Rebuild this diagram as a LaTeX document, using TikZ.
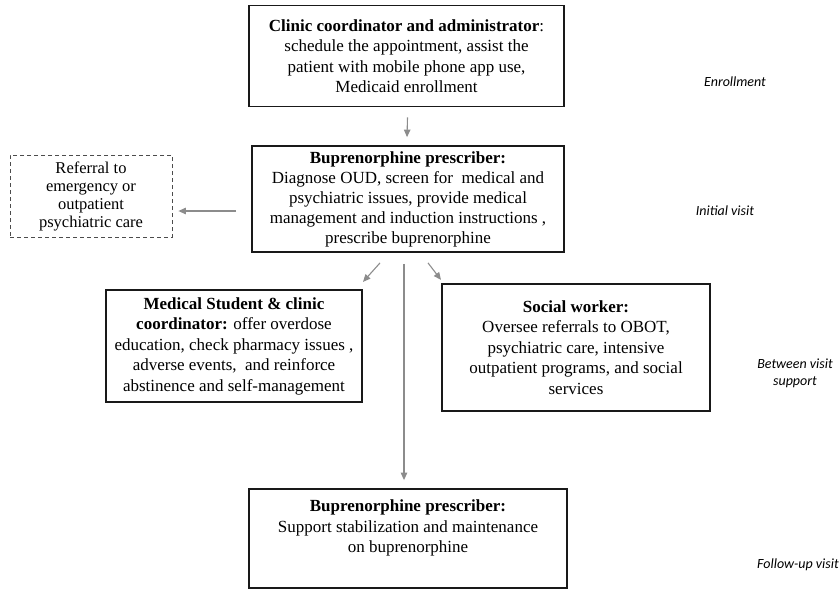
\documentclass[tikz,border=0pt]{standalone}
\usepackage{fontspec}
\setmainfont{Liberation Serif}
\newfontfamily\labfont{Carlito}
\usetikzlibrary{arrows.meta}
\begin{document}
\begin{tikzpicture}[x=1pt,y=-1pt,
  box/.style={draw=black!90, line width=1.8pt, align=center, inner sep=0pt, font=\fontsize{17}{20.5}\selectfont},
  dbox/.style={draw=black!70, dash pattern=on 4pt off 3pt, line width=0.8pt, align=center, inner sep=0pt, font=\fontsize{16.5}{18}\selectfont},
  conn/.style={draw=black!45, line width=1.1pt, -{Triangle[width=6.5pt,length=7.5pt]}},
  lab/.style={font=\labfont\itshape\fontsize{14}{17}\selectfont, align=center}]
\useasboundingbox (0,0) rectangle (840,590);
\node[box, minimum width=315pt, minimum height=101pt] (b1) at (406.5,56)
  {\textbf{Clinic coordinator and administrator}:\\schedule the appointment, assist the\\patient with mobile phone app use,\\Medicaid enrollment};
\node[box, minimum width=312pt, minimum height=106pt, font=\fontsize{17}{20}\selectfont] (b2) at (408,199)
  {\textbf{Buprenorphine prescriber:}\\Diagnose OUD, screen for\ \ medical and\\psychiatric issues, provide medical\\management and induction instructions ,\\prescribe buprenorphine};
\node[dbox, minimum width=162pt, minimum height=82pt] (ref) at (91,196)
  {Referral to\\emergency or\\outpatient\\psychiatric care};
\node[box, minimum width=256pt, minimum height=112pt] (b3) at (234,346)
  {\textbf{Medical Student \& clinic}\\\textbf{coordinator:} offer overdose\\education, check pharmacy issues ,\\adverse events,\ \ and reinforce\\abstinence and self-management};
\node[box, minimum width=268pt, minimum height=127pt] (b4) at (576,347.5)
  {\textbf{Social worker:}\\Oversee referrals to OBOT,\\psychiatric care, intensive\\outpatient programs, and social\\services};
\node[box, minimum width=318pt, minimum height=99pt] (b5) at (408,538.5) {};
\node[align=center, font=\fontsize{17}{20.5}\selectfont] (b5t) at (408,528)
  {\textbf{Buprenorphine prescriber:}\\Support stabilization and maintenance\\on buprenorphine};
\node[lab] (l1) at (735,82) {Enrollment};
\node[lab] (l2) at (725,211) {Initial visit};
\node[lab] (l3) at (795,373) {Between visit\\support};
\node[lab] (l4) at (798,565) {Follow-up visit};
\draw[conn] ([xshift=1pt,yshift=-10pt]b1.south) -- ([xshift=-1pt,yshift=8pt]b2.north);
\draw[conn] ([xshift=-15pt]b2.west |- l2) -- ([xshift=6pt]ref.east |- l2);
\draw[conn] ([xshift=-28pt,yshift=-10pt]b2.south) -- ([xshift=-45pt,yshift=-29pt]b2.south);
\draw[conn] ([xshift=20pt,yshift=-10pt]b2.south) -- ([xshift=33pt,yshift=-27pt]b2.south);
\draw[conn] ([xshift=-4pt,yshift=-11pt]b2.south) -- ([xshift=-4pt,yshift=8pt]b5.north);
\end{tikzpicture}
\end{document}
